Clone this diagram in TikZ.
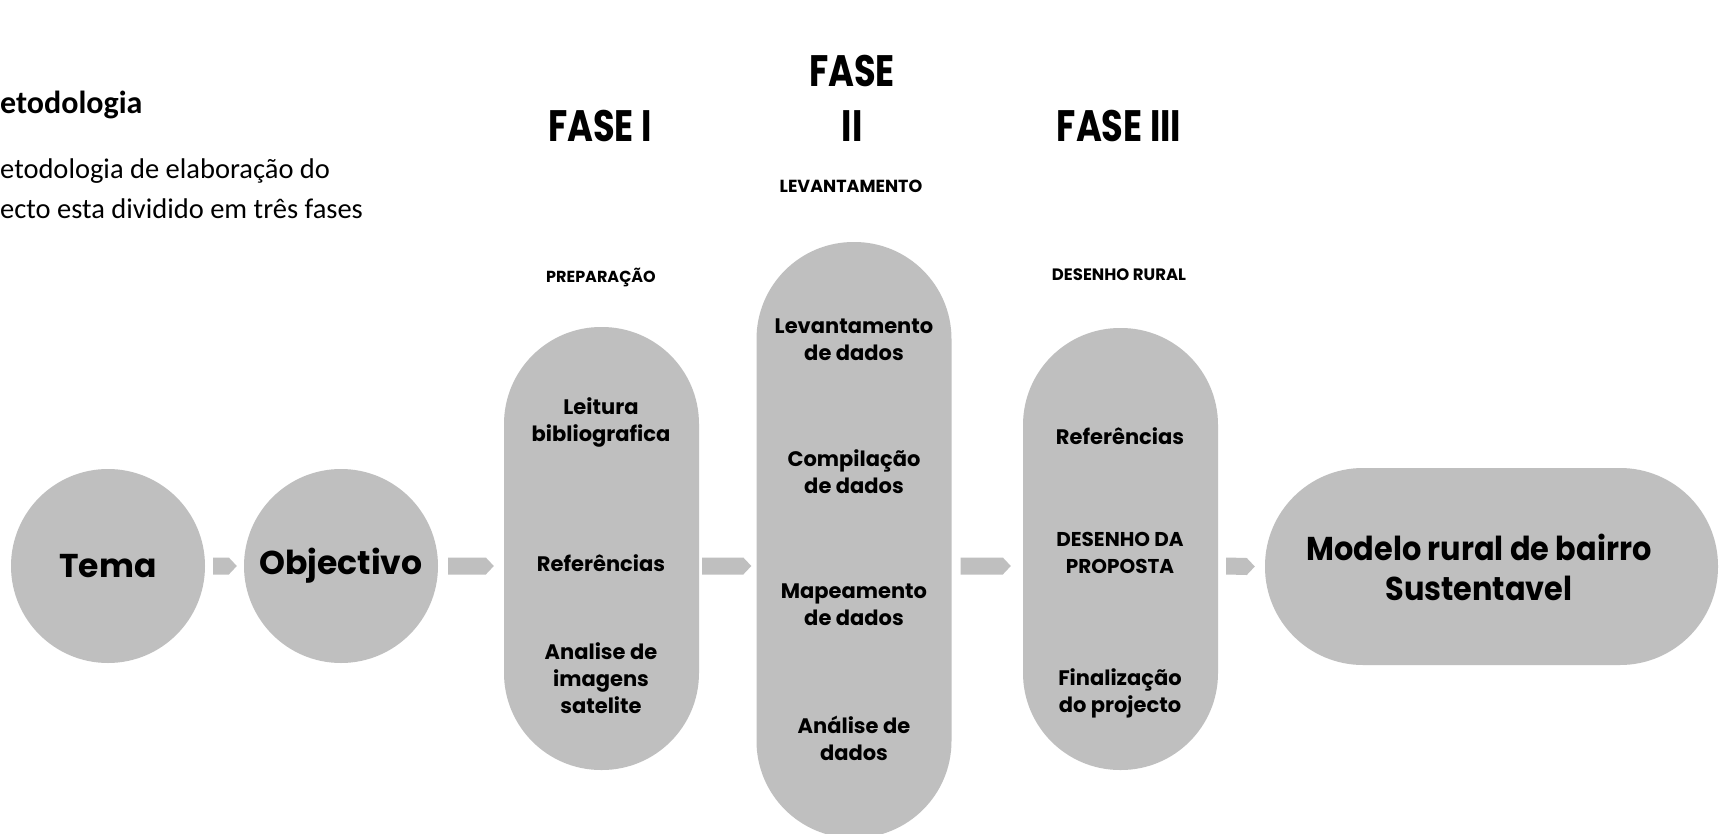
\documentclass[tikz,border=0pt]{standalone}
\usepackage{fontspec}
\setmainfont{Carlito}
\newfontfamily\gothic{Poppins}
\newfontfamily\headfont{Poppins}[FakeStretch=0.8]
\newfontfamily\finalfont{Poppins}[FakeStretch=0.92]
\usetikzlibrary{calc}
\definecolor{shapegray}{HTML}{BFBFBF}
\newcommand\chevron[2]{\fill[chevfill] ($(#1)+(0,-8.5)$) -- ($(#2)+(-8,-8.5)$) -- (#2) -- ($(#2)+(-8,8.5)$) -- ($(#1)+(0,8.5)$) -- cycle;}
\begin{document}
\begin{tikzpicture}[x=1pt,y=-1pt,
  blob/.style={fill=shapegray, draw=none, inner sep=0pt},
  roundnode/.style={blob, circle, minimum size=194pt, font=\gothic\bfseries\fontsize{33}{40}\selectfont},
  pill/.style={blob, rectangle, rounded corners=97pt, minimum width=195pt},
  steptext/.style={align=center, font=\gothic\bfseries\fontsize{21}{27}\selectfont, inner sep=0pt},
  phase/.style={align=center, font=\headfont\bfseries\fontsize{44}{55}\selectfont, inner sep=0pt},
  sublabel/.style={font=\gothic\bfseries\fontsize{16}{20}\selectfont, inner sep=0pt},
  bodytext/.style={font=\fontsize{28.5}{34}\selectfont, inner sep=0pt, anchor=base west},
  chevfill/.style={fill=shapegray}
]
\clip (0,0) rectangle (1719,833);
\fill[white] (0,0) rectangle (1719,833);

% left description
\node[bodytext, font=\bfseries\fontsize{32}{36}\selectfont] (title) at (0,113) {etodologia};
\node[bodytext] (desc1) at (0,178) {etodologia de elaboração do};
\node[bodytext] (desc2) at (0,218) {ecto esta dividido em três fases};

% shapes
\node[roundnode] (tema) at (108,566) {Tema};
\node[roundnode] (obj) at (341,566) {Objectivo};
\node[pill, minimum height=443pt] (p1) at (601.5,548.5) {};
\node[pill, minimum height=596pt] (p2) at (854,540) {};
\node[pill, minimum height=442pt] (p3) at (1120.5,549) {};
\node[blob, rectangle, rounded corners=98pt, minimum width=453pt, minimum height=197pt] (final) at (1491.5,566.5) {};
\node[align=center, inner sep=0pt, font=\finalfont\bfseries\fontsize{33}{40}\selectfont] (finaltext) at (1479,567)
      {Modelo rural de bairro\\Sustentavel};

% headings
\node[phase] (f1) at (600,126) {FASE I};
\node[phase] (f2) at (852,98) {FASE\\II};
\node[phase] (f3) at (1119,126) {FASE III};
\node[sublabel, font=\gothic\bfseries\fontsize{17.5}{20}\selectfont] (s2) at (851,186) {LEVANTAMENTO};
\node[sublabel] (s1) at (601,277) {PREPARAÇÃO};
\node[sublabel, font=\gothic\bfseries\fontsize{16.5}{20}\selectfont] (s3) at (1119,275) {DESENHO RURAL};

% phase I items
\node[steptext] (a1) at (601,422) {Leitura\\bibliografica};
\node[steptext] (a2) at (601,563) {Referências};
\node[steptext] (a3) at (601,678) {Analise de\\imagens\\satelite};
% phase II items
\node[steptext] (b1) at (854,339.5) {Levantamento\\de dados};
\node[steptext] (b2) at (854,472) {Compilação\\de dados};
\node[steptext] (b3) at (854,604.5) {Mapeamento\\de dados};
\node[steptext] (b4) at (854,738.5) {Análise de\\dados};
% phase III items
\node[steptext] (d1) at (1120,436) {Referências};
\node[steptext, font=\gothic\bfseries\fontsize{20}{27}\selectfont] (d2) at (1120,552.5) {DESENHO DA\\PROPOSTA};
\node[steptext] (d3) at (1120,693.5) {Finalização\\do projecto};

% connectors
\coordinate (c1s) at ($(tema.east)+(8,0)$);
\coordinate (c1e) at ($(obj.west)+(-7,0)$);
\coordinate (c2s) at ($(obj.east)+(10,0)$);
\coordinate (c2e) at ($(p1.west |- obj.west)+(-10,0)$);
\coordinate (c3s) at ($(p1.east |- obj.east)+(3,0)$);
\coordinate (c3e) at ($(p2.west |- obj.west)+(-5,0)$);
\coordinate (c4s) at ($(p2.east |- obj.east)+(9,0)$);
\coordinate (c4e) at ($(p3.west |- obj.west)+(-12,0)$);
\coordinate (c5s) at ($(p3.east |- obj.east)+(8,0)$);
\coordinate (c5e) at ($(final.west)+(-10,0)$);
\chevron{c1s}{c1e}
\chevron{c2s}{c2e}
\chevron{c3s}{c3e}
\chevron{c4s}{c4e}
\chevron{c5s}{c5e}
\end{tikzpicture}
\end{document}
